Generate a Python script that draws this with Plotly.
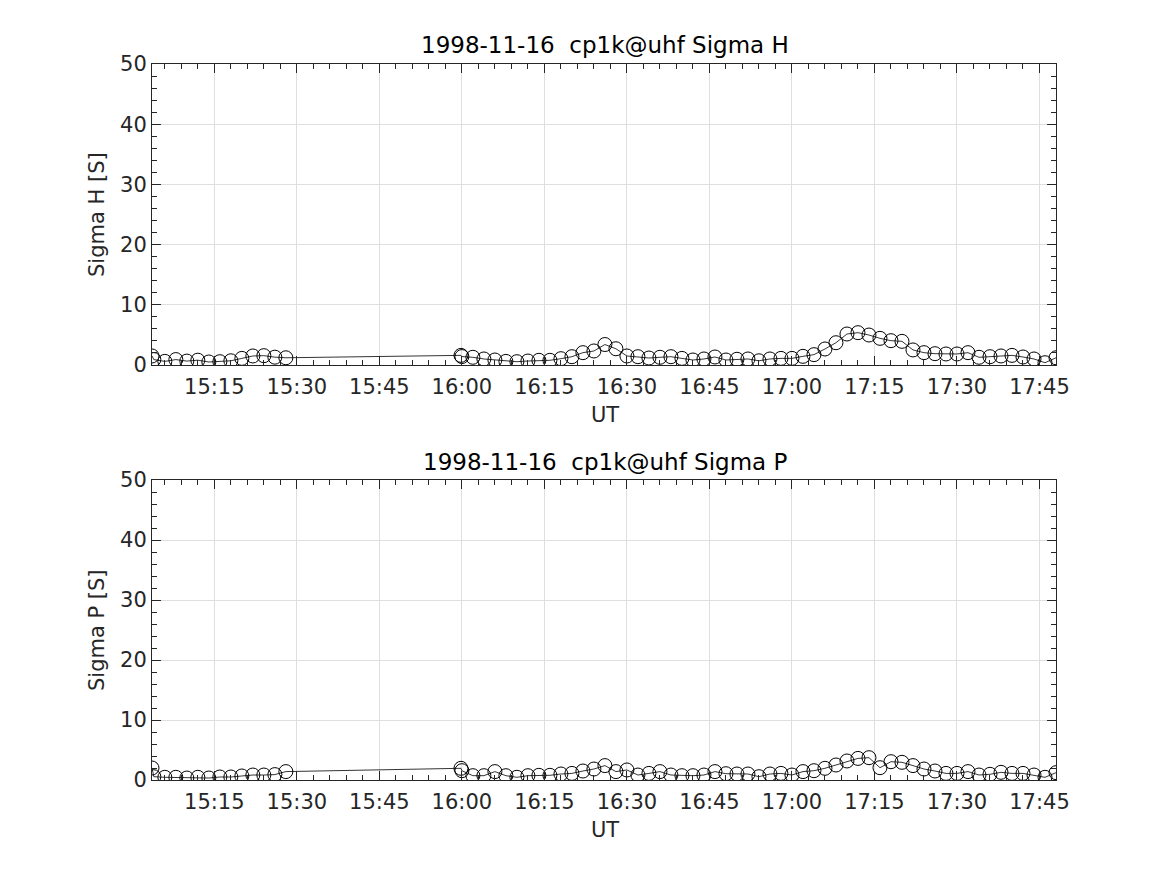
import plotly.graph_objects as go

DAY = "1998-11-16 "

times_a = ["15:03:40", "15:04", "15:06", "15:08", "15:10", "15:12", "15:14", "15:16",
           "15:18", "15:20", "15:22", "15:24", "15:26", "15:28"]
times_b = ["15:59:50", "16:00", "16:02", "16:04", "16:06", "16:08", "16:10", "16:12", "16:14",
           "16:16", "16:18", "16:20", "16:22", "16:24", "16:26", "16:28", "16:30",
           "16:32", "16:34", "16:36", "16:38", "16:40", "16:42", "16:44", "16:46",
           "16:48", "16:50", "16:52", "16:54", "16:56", "16:58", "17:00", "17:02",
           "17:04", "17:06", "17:08", "17:10", "17:12", "17:14", "17:16", "17:18",
           "17:20", "17:22", "17:24", "17:26", "17:28", "17:30", "17:32", "17:34",
           "17:36", "17:38", "17:40", "17:42", "17:44", "17:46", "17:48"]

sigma_h_a = [1.5, 0.9, 0.6, 0.9, 0.65, 0.8, 0.5, 0.55, 0.7, 1.1, 1.5, 1.55, 1.3, 1.2]
sigma_h_b = [1.6, 1.4, 1.28, 1.0, 0.83, 0.6, 0.55, 0.66, 0.78, 0.78, 1.05, 1.38, 2.05,
             2.33, 3.4, 2.7, 1.5, 1.38, 1.16, 1.28, 1.38, 1.1, 0.83, 1.0, 1.33, 0.83,
             0.95, 1.0, 0.7, 1.0, 1.1, 1.1, 1.44, 1.72, 2.66, 3.7, 5.15, 5.37, 4.98,
             4.43, 4.04, 3.93, 2.5, 2.05, 1.88, 1.83, 1.83, 2.05, 1.28, 1.38, 1.5, 1.6,
             1.33, 1.0, 0.38, 1.2]

sigma_p_a = [2.0, 0.55, 0.45, 0.45, 0.33, 0.45, 0.33, 0.5, 0.5, 0.67, 0.83, 0.83, 0.9, 1.4]
sigma_p_b = [1.95, 1.55, 0.72, 0.72, 1.4, 0.72, 0.45, 0.72, 0.78, 0.78, 1.0, 1.1, 1.5,
             1.83, 2.4, 1.4, 1.67, 0.83, 1.1, 1.4, 0.83, 0.72, 0.72, 0.83, 1.4, 1.05,
             1.0, 1.0, 0.55, 1.0, 1.1, 0.83, 1.4, 1.55, 1.95, 2.5, 3.17, 3.6, 3.72,
             2.05, 3.05, 2.95, 2.4, 1.83, 1.5, 1.1, 1.1, 1.4, 0.83, 0.95, 1.28, 1.1,
             1.1, 0.83, 0.45, 1.22]

titles = ["1998-11-16  cp1k@uhf Sigma H", "1998-11-16  cp1k@uhf Sigma P"]
ylabels = ["Sigma H [S]", "Sigma P [S]"]
xlabel = "UT"

def full(ts):
    return [DAY + (t if t.count(":") == 2 else t + ":00") for t in ts]

x_all = full(times_a) + full(times_b)
h_all = sigma_h_a + sigma_h_b
p_all = sigma_p_a + sigma_p_b

INK = "#262626"
GRID = "#dfdfdf"
FONT = "DejaVu Sans"

fig = go.Figure()
for vals, ax in [(h_all, "y"), (p_all, "y2")]:
    fig.add_trace(go.Scatter(
        x=x_all, y=vals, mode="lines+markers", yaxis=ax, xaxis="x" if ax == "y" else "x2",
        line=dict(color="black", width=0.8),
        marker=dict(symbol="circle-open", size=14, color="black", line=dict(width=1, color="black")),
        showlegend=False))

# page has an 8px body margin; work in reference pixel coords minus 8
OFF = 8
W, H = 1167, 875
L, R, T, B = 152 - OFF, W - (1056 - OFF), 64 - OFF, H - (780 - OFF)
ph = H - T - B
def py(p):
    return (H - B - (p - OFF)) / ph
def px(p):
    return ((p - OFF) - L) / (W - L - R)

xcommon = dict(
    type="date", range=[DAY + "15:03:40", DAY + "17:48:00"],
    tick0=DAY + "15:00:00", dtick=15 * 60 * 1000, tickformat="%H:%M",
    ticks="inside", ticklen=9, tickwidth=1, tickcolor=INK, ticklabelstandoff=3,
    showline=True, linecolor=INK, linewidth=1, mirror="allticks",
    showgrid=True, gridcolor=GRID, gridwidth=1, zeroline=False,
    minor=dict(ticks="inside", ticklen=5, dtick=3 * 60 * 1000, tickcolor=INK, showgrid=False),
    tickfont=dict(family=FONT, size=21, color=INK),
)
ycommon = dict(
    range=[0, 50], dtick=10, tick0=0,
    ticks="inside", ticklen=9, tickwidth=1, tickcolor=INK,
    showline=True, linecolor=INK, linewidth=1, mirror="allticks",
    showgrid=True, gridcolor=GRID, gridwidth=1, zeroline=False,
    minor=dict(ticks="inside", ticklen=5, dtick=2, tickcolor=INK, showgrid=False),
    tickfont=dict(family=FONT, size=21, color=INK),
)

top_dom = [py(365), 1.0]
bot_dom = [0.0, py(480)]

fig.update_layout(
    width=W, height=H,
    margin=dict(l=L, r=R, t=T, b=B, autoexpand=False),
    paper_bgcolor="white", plot_bgcolor="white",
    font=dict(family=FONT, size=21, color=INK),
    xaxis=dict(xcommon, anchor="y", domain=[0, 1]),
    yaxis=dict(ycommon, anchor="x", domain=top_dom),
    xaxis2=dict(xcommon, anchor="y2", domain=[0, 1]),
    yaxis2=dict(ycommon, anchor="x2", domain=bot_dom),
)

ann = []
for i, (tpx, upx, ymid) in enumerate([(45, 415, 215), (462, 830, 630)]):
    ann.append(dict(text=titles[i], x=px(605), y=py(tpx), xref="paper", yref="paper",
                    showarrow=False, xanchor="center", yanchor="middle",
                    font=dict(family=FONT, size=23, color="black")))
    ann.append(dict(text=xlabel, x=px(605), y=py(upx), xref="paper", yref="paper",
                    showarrow=False, xanchor="center", yanchor="middle",
                    font=dict(family=FONT, size=21, color=INK)))
    ann.append(dict(text=ylabels[i], x=px(97), y=py(ymid), xref="paper", yref="paper",
                    showarrow=False, xanchor="center", yanchor="middle", textangle=-90,
                    font=dict(family=FONT, size=21, color=INK)))
fig.update_layout(annotations=ann)

fig.write_html("out.html")
